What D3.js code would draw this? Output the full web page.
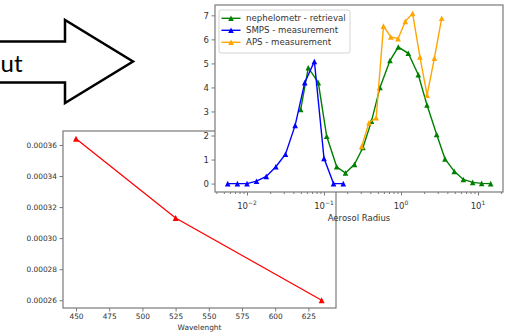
<!DOCTYPE html>
<html>
<head>
<meta charset="utf-8">
<script src="https://cdn.jsdelivr.net/npm/d3@7"></script>
<style>
  body { margin: 0; background: #fff; }
  svg { display: block; font-family: "DejaVu Sans", sans-serif; }
</style>
</head>
<body>
<svg id="chart" width="509" height="335"></svg>
<script>
// bottom chart: value vs wavelength
const wavelengths = [450, 525, 635];
const wlValues = [0.000364, 0.000313, 0.00026];
const wlTicksX = [450, 475, 500, 525, 550, 575, 600, 625];
const wlTicksY = [0.00026, 0.00028, 0.00030, 0.00032, 0.00034, 0.00036];

// top chart: size distributions
const nephRadius = [0.0498, 0.0625, 0.0843, 0.1084, 0.1462, 0.1902, 0.2489, 0.321, 0.414, 0.5337,
  0.7197, 0.9224, 1.244, 1.678, 2.176, 2.908, 3.728, 4.922, 6.446, 8.535, 11.17, 14.62];
const nephValues = [3.08, 4.82, 4.2, 1.97, 0.7, 0.44, 0.8, 1.5, 2.6, 4.0,
  5.12, 5.68, 5.42, 4.53, 3.27, 2.04, 1.03, 0.51, 0.17, 0.05, 0.01, 0.0];
const smpsRadius = [0.00562, 0.0075, 0.01, 0.0133, 0.0178, 0.0237, 0.0316, 0.0422, 0.0562, 0.075,
  0.1, 0.133, 0.178];
const smpsValues = [0, 0, 0, 0.1, 0.3, 0.7, 1.22, 2.42, 4.2, 5.08, 1.05, 0, 0];
const apsRadius = [0.3087, 0.3837, 0.4764, 0.5926, 0.7372, 0.9169, 1.137, 1.415, 1.760, 2.183,
  2.716, 3.379];
const apsValues = [1.55, 2.53, 2.74, 6.55, 6.1, 6.03, 6.75, 7.08, 5.27, 3.68, 5.22, 6.88];
const radiusTicks = [0.01, 0.1, 1, 10];
const radiusExp = ["\u22122", "\u22121", "0", "1"];
const sizeTicksY = [0, 1, 2, 3, 4, 5, 6, 7];
const seriesNames = ["nephelometr - retrieval", "SMPS - measurement", "APS - measurement"];
const seriesColors = ["green", "blue", "orange"];

const svg = d3.select("#chart");
const spine = "#7a7a7a", txt = "#333";
const tri = s => `M0,${-s}L${-s},${s}L${s},${s}Z`;

// ---- arrow, only the tail of its label is in view
svg.append("polygon")
  .attr("points", "-5,41.5 65,41.5 65,20 133,61.5 65,103 65,82.5 -5,82.5")
  .attr("fill", "#fff").attr("stroke", "#000").attr("stroke-width", 2.5)
  .attr("stroke-linejoin", "miter");
svg.append("text").attr("x", 0.5).attr("y", 72)
  .style("font-family", "Lato, 'Open Sans', sans-serif").style("font-size", "24px")
  .attr("fill", "#000").text("ut");

// ---- bottom chart
(function(){
  const x = d3.scaleLinear().domain([440.2, 645.8]).range([63, 336]);
  const y = d3.scaleLinear().domain([0.000255, 0.000369]).range([308, 131]);
  const g = svg.append("g");
  g.append("rect").attr("x", 63).attr("y", 131).attr("width", 273).attr("height", 177).attr("fill", "#fff");

  const ax = g.append("g").attr("transform", "translate(0,308)")
    .call(d3.axisBottom(x).tickValues(wlTicksX).tickSize(3.5).tickPadding(2).tickFormat(d3.format("d")));
  const ay = g.append("g").attr("transform", "translate(63,0)")
    .call(d3.axisLeft(y).tickValues(wlTicksY).tickSize(3.5).tickPadding(2.5).tickFormat(d3.format(".5f")));
  [ax, ay].forEach(a => {
    a.select(".domain").remove();
    a.selectAll("line").attr("stroke", spine);
    a.selectAll("text").attr("fill", txt).style("font-size", "7.4px").style("font-family", "DejaVu Sans");
  });

  g.append("rect").attr("x", 63).attr("y", 131).attr("width", 273).attr("height", 177)
    .attr("fill", "none").attr("stroke", spine).attr("stroke-width", 1.2);

  g.append("path").datum(wavelengths)
    .attr("fill", "none").attr("stroke", "red").attr("stroke-width", 1.3)
    .attr("d", d3.line().x(d => x(d)).y((d, i) => y(wlValues[i])));
  g.selectAll(".m").data(wavelengths).join("path")
    .attr("transform", (d, i) => `translate(${x(d)},${y(wlValues[i])})`)
    .attr("d", tri(3)).attr("fill", "red");

  g.append("text").attr("x", 199.5).attr("y", 330).attr("text-anchor", "middle")
    .attr("fill", txt).style("font-size", "7.4px").text("Wavelenght");
})();

// ---- top chart
(function(){
  const x = d3.scaleLog().domain([0.00384, 21.13]).range([215, 503]);
  const y = d3.scaleLinear().domain([-0.35, 7.43]).range([192, 5]);
  const g = svg.append("g");
  g.append("rect").attr("x", 215).attr("y", 5).attr("width", 288).attr("height", 187).attr("fill", "#fff");

  // minor log ticks
  const minor = x.ticks().filter(v => Math.abs(Math.log10(v) - Math.round(Math.log10(v))) > 1e-6);
  const axMinor = g.append("g").attr("transform", "translate(0,192)")
    .call(d3.axisBottom(x).tickValues(minor).tickSize(2).tickFormat(""));
  const ax = g.append("g").attr("transform", "translate(0,192)")
    .call(d3.axisBottom(x).tickValues(radiusTicks).tickSize(3.5).tickFormat(""));
  const ay = g.append("g").attr("transform", "translate(215,0)")
    .call(d3.axisLeft(y).tickValues(sizeTicksY).tickSize(3.5).tickPadding(2.5).tickFormat(d3.format("d")));
  [axMinor, ax, ay].forEach(a => {
    a.select(".domain").remove();
    a.selectAll("line").attr("stroke", spine);
    a.selectAll("text").attr("fill", txt).style("font-size", "8.5px").style("font-family", "DejaVu Sans");
  });
  // power-of-ten labels
  radiusTicks.forEach((v, i) => {
    const t = g.append("text").attr("x", x(v)).attr("y", 208.5).attr("text-anchor", "middle")
      .attr("fill", txt).style("font-size", "8.5px");
    t.append("tspan").text("10");
    t.append("tspan").attr("dy", -3.5).style("font-size", "6px").text(radiusExp[i]);
  });

  g.append("rect").attr("x", 215).attr("y", 5).attr("width", 288).attr("height", 187)
    .attr("fill", "none").attr("stroke", spine).attr("stroke-width", 1.2);

  const series = [
    { r: nephRadius, v: nephValues },
    { r: smpsRadius, v: smpsValues },
    { r: apsRadius, v: apsValues }
  ];
  series.forEach((s, k) => {
    const pts = s.r.map((r, i) => [r, s.v[i]]);
    g.append("path").datum(pts)
      .attr("fill", "none").attr("stroke", seriesColors[k]).attr("stroke-width", 1.4)
      .attr("d", d3.line().x(d => x(d[0])).y(d => y(d[1])));
    g.selectAll(null).data(pts).join("path")
      .attr("transform", d => `translate(${x(d[0])},${y(d[1])})`)
      .attr("d", tri(2.8)).attr("fill", seriesColors[k]);
  });

  // legend
  const lg = g.append("g");
  lg.append("rect").attr("x", 219).attr("y", 10).attr("width", 131).attr("height", 43).attr("rx", 2)
    .attr("fill", "#fff").attr("fill-opacity", 0.85).attr("stroke", "#d4d4d4").attr("stroke-width", 1);
  seriesNames.forEach((name, i) => {
    const cy = 18.3 + i * 12;
    lg.append("line").attr("x1", 221.5).attr("x2", 240.5).attr("y1", cy).attr("y2", cy)
      .attr("stroke", seriesColors[i]).attr("stroke-width", 1.4);
    lg.append("path").attr("transform", `translate(231,${cy})`).attr("d", tri(2.8)).attr("fill", seriesColors[i]);
    lg.append("text").attr("x", 246).attr("y", cy + 3).attr("fill", txt)
      .style("font-size", "8.6px").text(name);
  });

  g.append("text").attr("x", 359).attr("y", 221).attr("text-anchor", "middle")
    .attr("fill", txt).style("font-size", "8.5px").text("Aerosol Radius");
})();
</script>
</body>
</html>
